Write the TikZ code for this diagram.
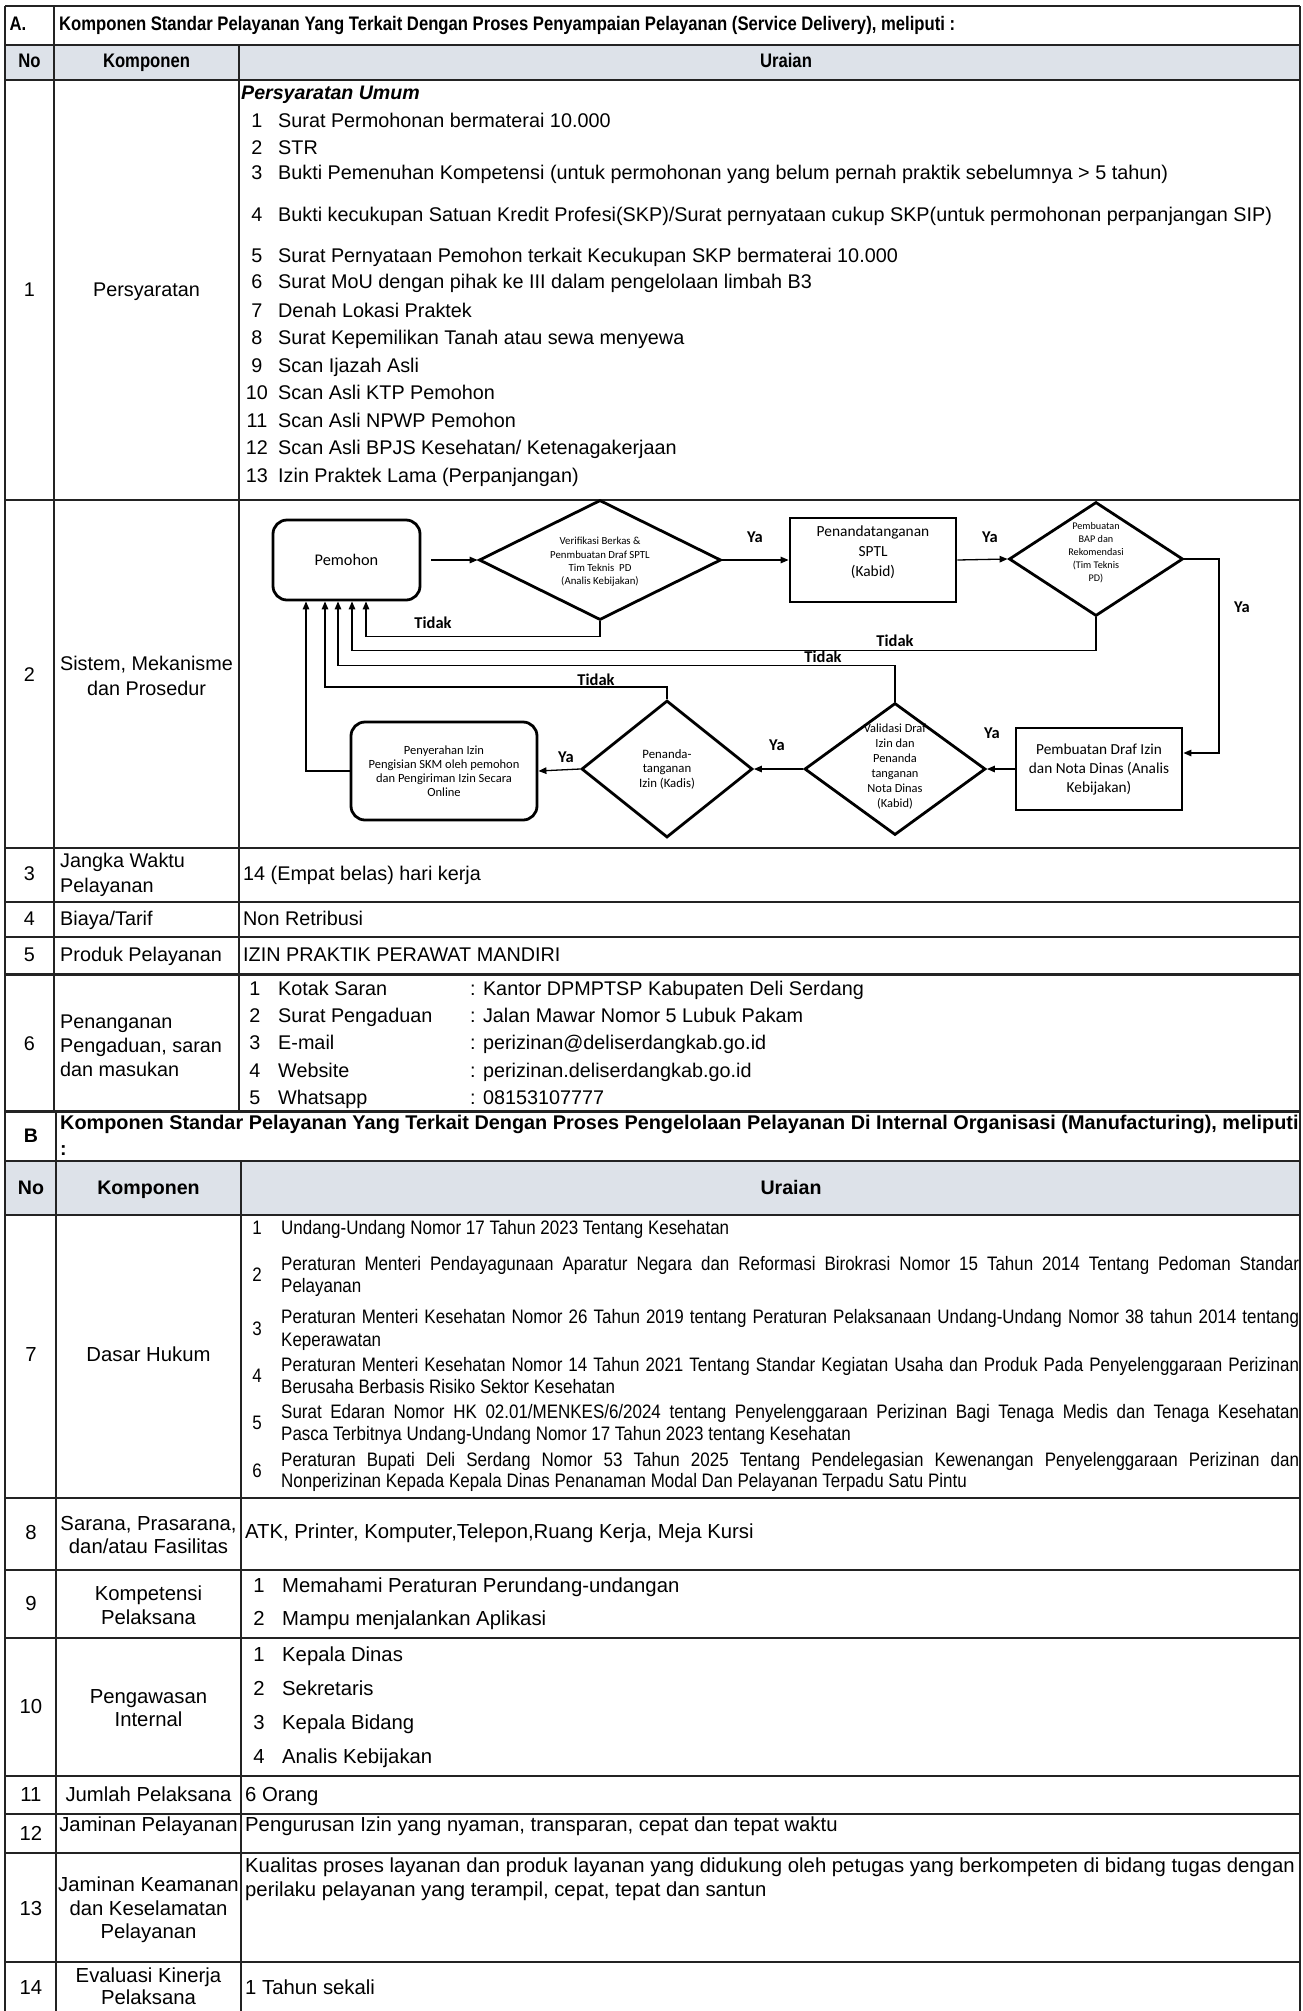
\documentclass[tikz,border=0pt]{standalone}
\usepackage{fontspec}
\setmainfont{Liberation Sans}
\newfontfamily\narrowsans[FakeStretch=0.85]{Liberation Sans}
\newfontfamily\slimsans[FakeStretch=0.87]{Liberation Sans}
\newfontfamily\calib{Carlito}
\usetikzlibrary{arrows.meta,shapes.geometric}
\definecolor{hdrfill}{RGB}{221,226,233}
\definecolor{rulecol}{RGB}{35,35,35}
\newcommand\fsz[2]{\fontsize{#1}{#2}\selectfont}

\begin{document}
\begin{tikzpicture}[x=1pt,y=-1pt,
  rl/.style={draw=rulecol,line width=2pt},
  rlb/.style={draw=rulecol,line width=3pt},
  ta/.style={inner sep=0pt,anchor=west,font=\fsz{19.8}{24},text height=14.5pt,text depth=4pt},
  tac/.style={inner sep=0pt,font=\fsz{19.8}{24},text height=14.5pt,text depth=4pt},
  tam/.style={inner sep=0pt,anchor=west,align=left,font=\fsz{19.8}{25}},
  tamc/.style={inner sep=0pt,align=center,font=\fsz{19.8}{25}},
  tb/.style={inner sep=0pt,anchor=west,font=\fsz{20.3}{24},text height=14.5pt,text depth=4pt},
  tbc/.style={inner sep=0pt,font=\fsz{20.3}{24},text height=14.5pt,text depth=4pt},
  tbmc/.style={inner sep=0pt,align=center,font=\fsz{20.3}{23.5}},
  hda/.style={inner sep=0pt,font=\narrowsans\bfseries\fsz{19.6}{23},text height=14.5pt,text depth=4pt},
  hdb/.style={inner sep=0pt,font=\bfseries\fsz{19.6}{23},text height=14.5pt,text depth=4pt},
  lw/.style={inner sep=0pt,anchor=west,font=\slimsans\fsz{19.5}{22},text height=14.5pt,text depth=4pt},
  lwc/.style={inner sep=0pt,font=\slimsans\fsz{19.5}{22},text height=14.5pt,text depth=4pt},
  shp/.style={draw=black,line width=2.8pt,inner sep=0pt},
  rbox/.style={shp,rectangle,rounded corners=14pt,align=center},
  sbox/.style={shp,rectangle,align=center},
  dia/.style={shp,diamond},
  ftx/.style={inner sep=0pt,align=center},
  yl/.style={inner sep=0pt,font=\calib\bfseries\fsz{16.5}{19}},
  conn/.style={draw=black,line width=1.3pt,-{Triangle[length=8pt,width=6.5pt]}},
]
% page
\path[use as bounding box,fill=white] (0,0) rectangle (1302,2011);

% header fills
\fill[hdrfill] (5,45) rectangle (1300,80);
\fill[hdrfill] (5,1161) rectangle (1300,1215);

% horizontal rules
\foreach \yy in {6,45,80,500,848,902,937,1161,1215,1498,1570,1638,1776,1814,1853,1962}
  \draw[rl] (5,\yy) -- (1300,\yy);
\draw[rlb] (5,974) -- (1300,974);
\draw[rlb] (5,1111) -- (1300,1111);
% vertical rules
\draw[rl] (5,6) -- (5,2011);
\draw[rl] (1300,6) -- (1300,2011);
\draw[rl] (54,6) -- (54,1111);
\draw[rl] (239,45) -- (239,1111);
\draw[rl] (56,1111) -- (56,2011);
\draw[rl] (241,1161) -- (241,2011);

% ---------- section A ----------
\node[hda] (secA) at (18,25) {A.};
\node[hda,anchor=west] (secAt) at (59,25) {Komponen Standar Pelayanan Yang Terkait Dengan Proses Penyampaian Pelayanan (Service Delivery), meliputi :};
\node[hda] (hAno) at (29.5,62) {No};
\node[hda] (hAkomp) at (146.5,62) {Komponen};
\node[hda] (hAur) at (786,62) {Uraian};

% row 1
\node[tac] (n1) at (29.5,291) {1};
\node[tac] (k1) at (146.5,291) {Persyaratan};
\node[ta,font=\bfseries\itshape\fsz{19.6}{24}] (pu) at (241,94) {Persyaratan Umum};
\foreach \i/\yy/\tx in {
  1/122/{Surat Permohonan bermaterai 10.000},
  2/149/{STR},
  3/174/{Bukti Pemenuhan Kompetensi (untuk permohonan yang belum pernah praktik sebelumnya > 5 tahun)},
  4/216/{Bukti kecukupan Satuan Kredit Profesi(SKP)/Surat pernyataan cukup SKP(untuk permohonan perpanjangan SIP)},
  5/257/{Surat Pernyataan Pemohon terkait Kecukupan SKP bermaterai 10.000},
  6/283/{Surat MoU dengan pihak ke III dalam pengelolaan limbah B3},
  7/312/{Denah Lokasi Praktek},
  8/339/{Surat Kepemilikan Tanah atau sewa menyewa},
  9/367/{Scan Ijazah Asli},
  10/394/{Scan Asli KTP Pemohon},
  11/422/{Scan Asli NPWP Pemohon},
  12/449/{Scan Asli BPJS Kesehatan/ Ketenagakerjaan},
  13/477/{Izin Praktek Lama (Perpanjangan)}}{
  \node[tac] (pn\i) at (257,\yy) {\i};
  \node[ta] (pt\i) at (278,\yy) {\tx};
}

% row 2
\node[tac] (n2) at (29.5,676) {2};
\node[tamc] (k2) at (146.5,676) {Sistem, Mekanisme\\dan Prosedur};

% flowchart
\node[rbox,minimum width=147pt,minimum height=80pt,font=\calib\fsz{16.3}{19}] (pem) at (346.5,560) {Pemohon};
\node[dia,minimum width=242pt,minimum height=120pt] (d1) at (600,560) {};
\node[ftx,font=\calib\fsz{10.8}{13.3}] (d1t) at (600,562) {Verifikasi Berkas \&\\Penmbuatan Draf SPTL\\Tim Teknis\ \ PD\\(Analis Kebijakan)};
\node[sbox,minimum width=166pt,minimum height=84pt] (b2) at (873,560) {};
\node[ftx,font=\calib\fsz{15.4}{20}] (b2t) at (873,552) {Penandatanganan\\SPTL\\(Kabid)};
\node[dia,minimum width=174pt,minimum height=114pt] (d2) at (1096,559) {};
\node[ftx,font=\calib\fsz{10.2}{13}] (d2t) at (1096,553) {Pembuatan\\BAP dan\\Rekomendasi\\(Tim Teknis\\PD)};
\node[sbox,minimum width=166pt,minimum height=82pt,font=\calib\fsz{15.3}{19}] (b3) at (1099,769) {Pembuatan Draf Izin\\dan Nota Dinas (Analis\\Kebijakan)};
\node[dia,minimum width=181pt,minimum height=132pt] (d3) at (895,769) {};
\node[ftx,font=\calib\fsz{12.4}{15}] (d3t) at (895,767) {Validasi Draf\\Izin dan\\Penanda\\tanganan\\Nota Dinas\\(Kabid)};
\node[dia,minimum width=171pt,minimum height=137pt] (d4) at (667,769) {};
\node[ftx,font=\calib\fsz{12.8}{14.5}] (d4t) at (667,769) {Penanda-\\tanganan\\Izin (Kadis)};
\node[rbox,minimum width=186pt,minimum height=98pt,font=\calib\fsz{12.5}{14}] (b4) at (444,771) {Penyerahan Izin\\Pengisian SKM oleh pemohon\\dan Pengiriman Izin Secara\\Online};

% return columns under Pemohon
\coordinate (f0) at (306,0);
\coordinate (f1) at (325,0);
\coordinate (f2) at (338,0);
\coordinate (f3) at (352,0);
\coordinate (f4) at (366,0);
\coordinate (rt) at (1219,753);

\draw[conn,shorten <=10pt] (pem.east) -- (d1.west);
\draw[conn] (d1.east) -- (b2.west);
\draw[conn] (b2.east) -- (d2.west);
\draw[conn] (d2.east) -| (rt) -- (rt -| b3.east);
\draw[conn] (b3.west) -- (d3.east);
\draw[conn] (d3.west) -- (d4.east);
\draw[conn] (d4.west) -- (b4.east);
\draw[conn] (b4.west) -| (pem.south -| f0);
\draw[conn] (d1.south) -- ++(0,15) -| (pem.south -| f4);
\draw[conn] (d2.south) -- ++(0,33) -| (pem.south -| f3);
\draw[conn] (d3.north) -- ++(0,-36) -| (pem.south -| f2);
\draw[conn] (d4.north) -- ++(0,-12) -| (pem.south -| f1);

\node[yl] (ya1) at (755,537) {Ya};
\node[yl] (ya2) at (990,537) {Ya};
\node[yl] (ya3) at (1242,607) {Ya};
\node[yl] (ya4) at (992,733) {Ya};
\node[yl] (ya5) at (777,745) {Ya};
\node[yl] (ya6) at (566,757) {Ya};
\node[yl] (td1) at (433,623) {Tidak};
\node[yl] (td2) at (895,641) {Tidak};
\node[yl] (td3) at (823,657) {Tidak};
\node[yl] (td4) at (596,680) {Tidak};

% rows 3-6
\node[tac] (n3) at (29.5,875) {3};
\node[tam] (k3) at (60,875) {Jangka Waktu\\Pelayanan};
\node[ta] (u3) at (243,875) {14 (Empat belas) hari kerja};
\node[tac] (n4) at (29.5,920) {4};
\node[ta] (k4) at (60,920) {Biaya/Tarif};
\node[ta] (u4) at (243,920) {Non Retribusi};
\node[tac] (n5) at (29.5,956) {5};
\node[ta] (k5) at (60,956) {Produk Pelayanan};
\node[ta] (u5) at (243,956) {IZIN PRAKTIK PERAWAT MANDIRI};
\node[tac] (n6) at (29.5,1045) {6};
\node[tam,font=\fsz{19.8}{24}] (k6) at (60,1046) {Penanganan\\Pengaduan, saran\\dan masukan};
\foreach \i/\yy/\ka/\kb in {
  1/990/{Kotak Saran}/{: Kantor DPMPTSP Kabupaten Deli Serdang},
  2/1017/{Surat Pengaduan}/{: Jalan Mawar Nomor 5 Lubuk Pakam},
  3/1044/{E-mail}/{: perizinan@deliserdangkab.go.id},
  4/1072/{Website}/{: perizinan.deliserdangkab.go.id},
  5/1099/{Whatsapp}/{: 08153107777}}{
  \node[tac] (cn\i) at (255,\yy) {\i};
  \node[ta] (ca\i) at (278,\yy) {\ka};
  \node[ta] (cb\i) at (470,\yy) {\kb};
}

% ---------- section B ----------
\node[hdb] (secB) at (31,1137) {B};
\node[hdb,anchor=west,font=\bfseries\fsz{19.85}{23}] (secBt) at (60,1124) {Komponen Standar Pelayanan Yang Terkait Dengan Proses Pengelolaan Pelayanan Di Internal Organisasi (Manufacturing), meliputi};
\node[hdb,anchor=west] (secBc) at (60,1150) {:};
\node[hdb] (hBno) at (31,1189) {No};
\node[hdb] (hBkomp) at (148.5,1189) {Komponen};
\node[hdb] (hBur) at (791,1189) {Uraian};

% row 7
\node[tbc] (n7) at (31,1356) {7};
\node[tbc] (k7) at (148.5,1356) {Dasar Hukum};
\node[lwc] (h1) at (257,1229) {1};
\node[lw] (h1a) at (281,1229) {Undang-Undang Nomor 17 Tahun 2023 Tentang Kesehatan};
\node[lwc] (h2) at (257,1276) {2};
\node[lw] (h2a) at (281,1265) {\makebox[1018pt][s]{Peraturan Menteri Pendayagunaan Aparatur Negara dan Reformasi Birokrasi Nomor 15 Tahun 2014 Tentang Pedoman Standar}};
\node[lw] (h2b) at (281,1287) {Pelayanan};
\node[lwc] (h3) at (257,1330) {3};
\node[lw] (h3a) at (281,1318) {\makebox[1018pt][s]{Peraturan Menteri Kesehatan Nomor 26 Tahun 2019 tentang Peraturan Pelaksanaan Undang-Undang Nomor 38 tahun 2014 tentang}};
\node[lw] (h3b) at (281,1341) {Keperawatan};
\node[lwc] (h4) at (257,1377) {4};
\node[lw] (h4a) at (281,1366) {\makebox[1018pt][s]{Peraturan Menteri Kesehatan Nomor 14 Tahun 2021 Tentang Standar Kegiatan Usaha dan Produk Pada Penyelenggaraan Perizinan}};
\node[lw] (h4b) at (281,1388) {Berusaha Berbasis Risiko Sektor Kesehatan};
\node[lwc] (h5) at (257,1424) {5};
\node[lw] (h5a) at (281,1413) {\makebox[1018pt][s]{Surat Edaran Nomor HK 02.01/MENKES/6/2024 tentang Penyelenggaraan Perizinan Bagi Tenaga Medis dan Tenaga Kesehatan}};
\node[lw] (h5b) at (281,1435) {Pasca Terbitnya Undang-Undang Nomor 17 Tahun 2023 tentang Kesehatan};
\node[lwc] (h6) at (257,1472) {6};
\node[lw] (h6a) at (281,1461) {\makebox[1018pt][s]{Peraturan Bupati Deli Serdang Nomor 53 Tahun 2025 Tentang Pendelegasian Kewenangan Penyelenggaraan Perizinan dan}};
\node[lw] (h6b) at (281,1482) {Nonperizinan Kepada Kepala Dinas Penanaman Modal Dan Pelayanan Terpadu Satu Pintu};

% row 8
\node[tbc] (n8) at (31,1534) {8};
\node[tbmc] (k8) at (148.5,1535) {Sarana, Prasarana,\\dan/atau Fasilitas};
\node[tb] (u8) at (245,1533) {ATK, Printer, Komputer,Telepon,Ruang Kerja, Meja Kursi};

% row 9
\node[tbc] (n9) at (31,1605) {9};
\node[tbmc] (k9) at (148.5,1605) {Kompetensi\\Pelaksana};
\node[tbc] (m1) at (259,1587) {1};
\node[tb] (m1a) at (282,1587) {Memahami Peraturan Perundang-undangan};
\node[tbc] (m2) at (259,1620) {2};
\node[tb] (m2a) at (282,1620) {Mampu menjalankan Aplikasi};

% row 10
\node[tbc] (n10) at (31,1708) {10};
\node[tbmc] (k10) at (148.5,1708) {Pengawasan\\Internal};
\foreach \i/\yy/\tx in {1/1656/{Kepala Dinas},2/1690/{Sekretaris},3/1724/{Kepala Bidang},4/1758/{Analis Kebijakan}}{
  \node[tbc] (w\i) at (259,\yy) {\i};
  \node[tb] (w\i a) at (282,\yy) {\tx};
}

% rows 11-14
\node[tbc] (n11) at (31,1796) {11};
\node[tbc] (k11) at (148.5,1796) {Jumlah Pelaksana};
\node[tb] (u11) at (245,1796) {6 Orang};
\node[tbc] (n12) at (31,1835) {12};
\node[tbc] (k12) at (148.5,1826) {Jaminan Pelayanan};
\node[tb] (u12) at (245,1826) {Pengurusan Izin yang nyaman, transparan, cepat dan tepat waktu};
\node[tbc] (n13) at (31,1910) {13};
\node[tbmc] (k13) at (148.5,1910) {Jaminan Keamanan\\dan Keselamatan\\Pelayanan};
\node[tb] (u13a) at (245,1867) {Kualitas proses layanan dan produk layanan yang didukung oleh petugas yang berkompeten di bidang tugas dengan};
\node[tb] (u13b) at (245,1891) {perilaku pelayanan yang terampil, cepat, tepat dan santun};
\node[tbc] (n14) at (31,1989) {14};
\node[tbmc,font=\fsz{20.3}{21.5}] (k14) at (148.5,1986) {Evaluasi Kinerja\\Pelaksana};
\node[tb] (u14) at (245,1989) {1 Tahun sekali};
\end{tikzpicture}
\end{document}
